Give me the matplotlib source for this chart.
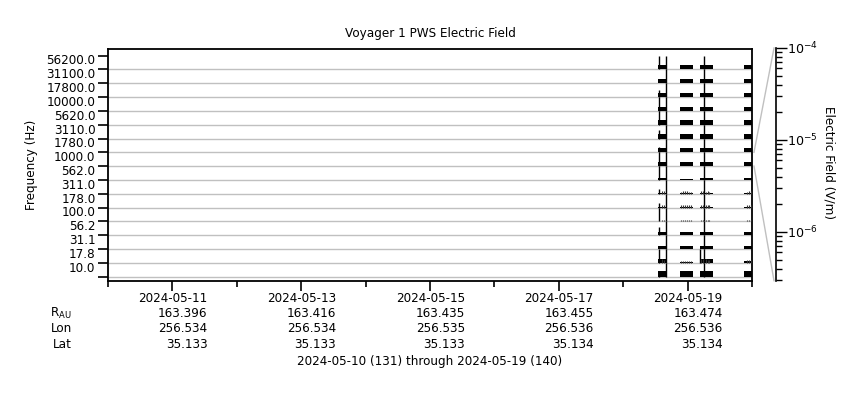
import matplotlib
matplotlib.use('Agg')
import matplotlib.pyplot as plt
import numpy as np
from matplotlib import transforms
from matplotlib.lines import Line2D

plt.rcParams['font.family'] = ['DejaVu Sans']
FS = 8.64

# ---------------- data ----------------
chan_freqs = [10.0, 17.8, 31.1, 56.2, 100.0, 178.0, 311.0, 562.0,
              1000.0, 1780.0, 3110.0, 5620.0, 10000.0, 17800.0, 31100.0, 56200.0]
# data segments, days after 2024-05-10 00:00
seg_start = [8.545, 8.882, 9.193, 9.876]
seg_end = [8.667, 9.089, 9.390, 10.0]
# typical electric field per channel (bottom-up) per segment, V/m
seg_efield = [
    [3.0e-6, 3.0e-6, 3.0e-6, 3.0e-6],   # 10.0
    [1.3e-6, 4.5e-7, 1.3e-6, 5.5e-7],   # 17.8
    [1.3e-6, 1.3e-6, 1.3e-6, 1.3e-6],   # 31.1
    [9.5e-7, 9.5e-7, 9.5e-7, 9.5e-7],   # 56.2
    [4.3e-7, 4.3e-7, 4.3e-7, 4.3e-7],   # 100
    [4.6e-7, 4.6e-7, 4.6e-7, 4.6e-7],   # 178
    [4.6e-7, 4.6e-7, 4.6e-7, 4.6e-7],   # 311
    [7.0e-7, 5.3e-7, 6.0e-7, 7.0e-7],   # 562
    [1.8e-6, 1.8e-6, 1.8e-6, 1.8e-6],   # 1000
    [1.8e-6, 1.8e-6, 1.8e-6, 1.8e-6],   # 1780
    [1.8e-6, 1.8e-6, 1.8e-6, 1.8e-6],   # 3110
    [1.8e-6, 1.8e-6, 1.8e-6, 1.8e-6],   # 5620
    [1.8e-6, 1.8e-6, 1.8e-6, 1.8e-6],   # 10000
    [1.8e-6, 1.8e-6, 1.8e-6, 1.8e-6],   # 17800
    [1.8e-6, 1.8e-6, 1.8e-6, 1.8e-6],   # 31100
    [1.8e-6, 1.8e-6, 1.8e-6, 1.8e-6],   # 56200
]
# saturated spikes seen in every channel
full_spike_days = [8.661, 9.255]
# spikes at the start of the first segment (per channel, V/m; 0 = none)
edge_spike_day = 8.549
edge_spike_efield = [2.4e-6, 1.0e-4, 0, 9.0e-6, 1.0e-4, 1.7e-6, 2.5e-6, 1.0e-4,
                     1.0e-4, 2.7e-6, 9.0e-6, 1.0e-4, 1.0e-4, 5.0e-6, 0, 1.0e-4]
# spikes at the start of the third segment
edge3_spike_day = 9.196
edge3_spike_efield = [0, 1.0e-4, 0, 0, 0, 0, 0, 0,
                      0, 0, 0, 0, 0, 0, 0, 0]
# small bursts inside segments
grass_days = [8.60, 8.63, 8.90, 8.93, 8.96, 8.99, 9.02, 9.05,
              9.21, 9.24, 9.28, 9.31, 9.34, 9.92, 9.95, 9.98]
grass_efield = {
    1: [1.4e-6, 1.2e-6, 6.5e-7, 7e-7, 6.5e-7, 7e-7, 6.5e-7, 7e-7,
        1.6e-6, 1.4e-6, 1.3e-6, 1.2e-6, 1.2e-6, 9e-7, 1.1e-6, 1.2e-6],
    4: [6e-7, 6.5e-7, 5.5e-7, 6e-7, 5.5e-7, 6e-7, 5.5e-7, 6e-7,
        6e-7, 6.5e-7, 5.5e-7, 6e-7, 5.5e-7, 5e-7, 5.5e-7, 6e-7],
    5: [1.0e-6, 9e-7, 8e-7, 9e-7, 8e-7, 9e-7, 8e-7, 9e-7,
        1.0e-6, 9e-7, 8e-7, 9e-7, 8e-7, 8e-7, 9e-7, 1.0e-6],
    6: [9e-7, 8e-7, 7e-7, 9e-7, 8e-7, 8e-7, 7e-7, 7e-7,
        1.0e-6, 9e-7, 7e-7, 8e-7, 7e-7, 7e-7, 8e-7, 9e-7],
}
e_min, e_max = 2.95e-7, 1.0e-4

tick_days = [1, 3, 5, 7, 9]
tick_dates = ['2024-05-11', '2024-05-13', '2024-05-15', '2024-05-17', '2024-05-19']
r_au = ['163.396', '163.416', '163.435', '163.455', '163.474']
lon = ['256.534', '256.534', '256.535', '256.536', '256.536']
lat = ['35.133', '35.133', '35.133', '35.134', '35.134']


def level(e):
    if e <= 0:
        return 0.0
    v = (np.log10(e) - np.log10(e_min)) / (np.log10(e_max) - np.log10(e_min))
    return float(np.clip(v, 0, 1))


# ---------------- figure ----------------
W, H = 860, 400
fig = plt.figure(figsize=(W / 100, H / 100), dpi=100)
ax_l, ax_r, ax_t, ax_b = 108, 752, 48.7, 280.7
ax = fig.add_axes([ax_l / W, 1 - ax_b / H, (ax_r - ax_l) / W, (ax_b - ax_t) / H])

nch = len(chan_freqs)
ax.set_xlim(0, 10)
ax.set_ylim(-0.29, 16.5)

ax.hlines(np.arange(nch), 0, 10, color='#c0c0c0', lw=1, zorder=1)

for k in range(nch):
    for s in range(len(seg_start)):
        lv = level(seg_efield[k][s])
        ax.fill_between([seg_start[s], seg_end[s]], k, k + lv,
                        color='black', linewidth=0, zorder=3)
    for t in full_spike_days:
        ax.vlines(t, k, k + 1.0, color='black', lw=1, zorder=4)
    for t, ev in ((edge_spike_day, edge_spike_efield[k]), (edge3_spike_day, edge3_spike_efield[k])):
        lv = level(ev)
        if lv > 0:
            ax.vlines(t, k, k + lv, color='black', lw=1, zorder=4)
    if k in grass_efield:
        for t, e in zip(grass_days, grass_efield[k]):
            ax.vlines(t, k, k + level(e), color='#333333', lw=0.8, zorder=4)

for sp in ['top', 'right', 'left', 'bottom']:
    ax.spines[sp].set_linewidth(1.3)

ax.set_yticks(np.arange(nch + 1))
ax.set_yticklabels([])
ax.set_yticks(np.arange(nch) + 0.72, minor=True)
ax.set_yticklabels(['%.1f' % f for f in chan_freqs], minor=True, fontsize=FS)
ax.tick_params(axis='y', which='major', direction='out', length=7, width=1.2)
ax.tick_params(axis='y', which='minor', length=0, pad=9)

ax.set_xticks(tick_days)
ax.set_xticklabels([])
ax.set_xticks(np.arange(0, 11, 2), minor=True)
ax.tick_params(axis='x', which='major', direction='out', length=7, width=1.2)
ax.tick_params(axis='x', which='minor', direction='out', length=4, width=1.2)

# under-axis annotation rows
trans = transforms.offset_copy(
    transforms.blended_transform_factory(ax.transData, ax.transAxes),
    fig=fig, x=35, y=0, units='dots')
row_y = [(ax_b - y) / (ax_b - ax_t) for y in (298, 313.5, 329, 345)]
for i, d in enumerate(tick_days):
    for row, vals in zip(row_y, (tick_dates, r_au, lon, lat)):
        ax.text(d, row, vals[i], transform=trans, ha='right', va='center', fontsize=FS)
for row, lab in zip(row_y[1:], (r'R$_{\mathregular{AU}}$', 'Lon', 'Lat')):
    ax.text((72 - ax_l) / (ax_r - ax_l), row, lab, transform=ax.transAxes,
            ha='right', va='center', fontsize=FS)

ax.text(0.5, (ax_b - 362) / (ax_b - ax_t), '2024-05-10 (131) through 2024-05-19 (140)',
        transform=ax.transAxes, ha='center', va='center', fontsize=FS)

fig.text(430 / W, 1 - 34 / H, 'Voyager 1 PWS Electric Field', ha='center', va='center', fontsize=FS)
fig.text(31 / W, 1 - 164.7 / H, 'Frequency (Hz)', rotation=90, ha='center', va='center', fontsize=FS)

# right scale axis
r_x, r_t, r_b = 776, 48.0, 280.7
ax2 = fig.add_axes([r_x / W, 1 - r_b / H, 0.0001, (r_b - r_t) / H])
ax2.set_yscale('log')
ax2.set_ylim(e_min, e_max)
for sp in ['top', 'right', 'bottom']:
    ax2.spines[sp].set_visible(False)
ax2.spines['left'].set_linewidth(1.2)
ax2.set_xticks([])
ax2.yaxis.set_ticks_position('left')
ax2.tick_params(axis='y', which='major', direction='in', length=8, width=1, labelsize=FS + 0.5,
                labelleft=False, labelright=True, right=False, left=True, pad=8)
ax2.tick_params(axis='y', which='minor', direction='in', length=4.5, width=1, left=True, right=False)
fig.text(829 / W, 1 - 163 / H, 'Electric Field (V/m)', rotation=270,
         ha='center', va='center', fontsize=FS)

# connector lines from the reference band (1000 Hz) to the scale
ref_k = chan_freqs.index(1000.0)
inv = fig.transFigure.inverted()
p_top = ax.transData.transform((10, ref_k + 1)) + np.array([2, 0])
p_bot = ax.transData.transform((10, ref_k)) + np.array([2, 0])
q_top = ax2.transAxes.transform((0, 1)) + np.array([-2, 0])
q_bot = ax2.transAxes.transform((0, 0)) + np.array([-2, 0])
for p, q in ((p_top, q_top), (p_bot, q_bot)):
    a, b = inv.transform(p), inv.transform(q)
    fig.add_artist(Line2D([a[0], b[0]], [a[1], b[1]], transform=fig.transFigure,
                          color='#c0c0c0', lw=1))

fig.savefig('out.png', dpi=100)
